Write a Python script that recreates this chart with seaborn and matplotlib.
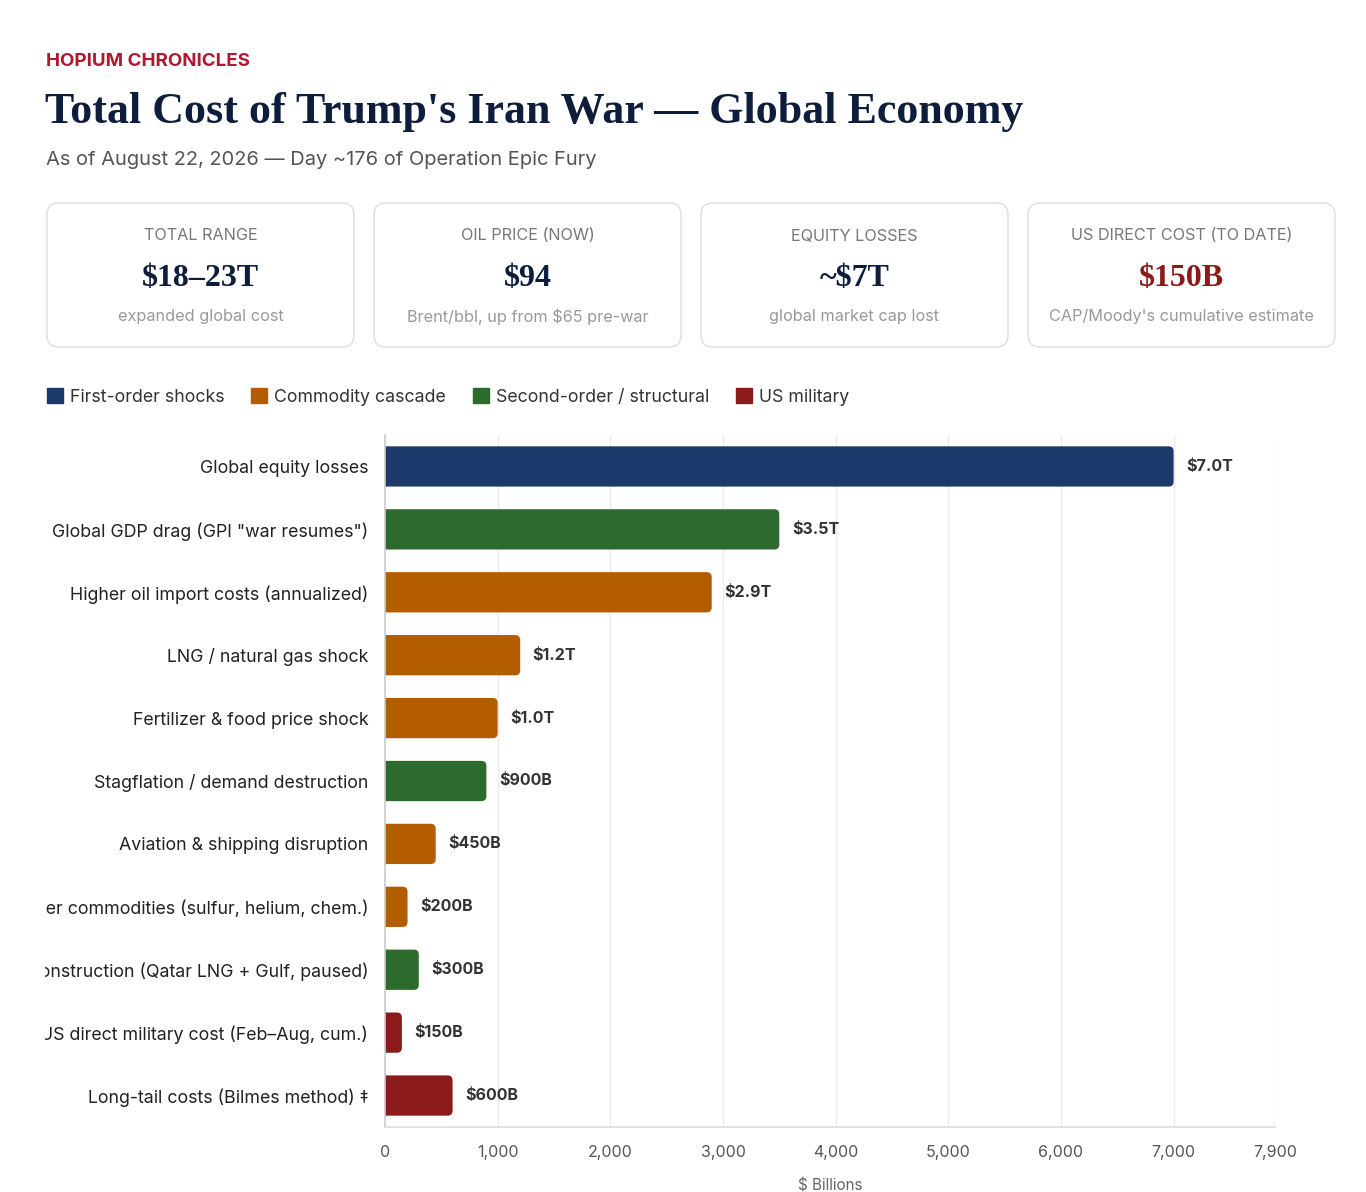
import matplotlib
matplotlib.use("Agg")
import matplotlib.pyplot as plt
from matplotlib.patches import FancyBboxPatch, Patch
from matplotlib.ticker import FuncFormatter
from matplotlib.transforms import Bbox, TransformedBbox
import seaborn as sns
import pandas as pd

# ---------------- data ----------------
items = [
    "Global equity losses",
    "Global GDP drag (GPI \"war resumes\")",
    "Higher oil import costs (annualized)",
    "LNG / natural gas shock",
    "Fertilizer & food price shock",
    "Stagflation / demand destruction",
    "Aviation & shipping disruption",
    "Other commodities (sulfur, helium, chem.)",
    "Reconstruction (Qatar LNG + Gulf, paused)",
    "US direct military cost (Feb–Aug, cum.)",
    "Long-tail costs (Bilmes method) ‡",
]
values_bn = [7000, 3500, 2900, 1200, 1000, 900, 450, 200, 300, 150, 600]
groups = [
    "First-order shocks",
    "Second-order / structural",
    "Commodity cascade",
    "Commodity cascade",
    "Commodity cascade",
    "Second-order / structural",
    "Commodity cascade",
    "Commodity cascade",
    "Second-order / structural",
    "US military",
    "US military",
]
legend_order = ["First-order shocks", "Commodity cascade", "Second-order / structural", "US military"]
group_colors = ["#1b3a6b", "#b35c00", "#2d6a2d", "#8b1a1a"]
x_ticks = [0, 1000, 2000, 3000, 4000, 5000, 6000, 7000, 7900]

card_titles = ["TOTAL RANGE", "OIL PRICE (NOW)", "EQUITY LOSSES", "US DIRECT COST (TO DATE)"]
card_values = ["$18–23T", "$94", "~$7T", "$150B"]
card_notes = ["expanded global cost", "Brent/bbl, up from $65 pre-war",
              "global market cap lost", "CAP/Moody's cumulative estimate"]
card_value_colors = ["#0f1d3d", "#0f1d3d", "#0f1d3d", "#8b1a1a"]

df = pd.DataFrame({"item": items, "value": values_bn, "group": groups})
palette = dict(zip(legend_order, group_colors))

# ---------------- figure ----------------
sns.set_theme(style="white")
SANS = ["Inter", "DejaVu Sans"]
SERIF = ["Liberation Serif", "DejaVu Serif"]
plt.rcParams["font.family"] = SANS

W, H = 1366, 1192
fig = plt.figure(figsize=(W / 100, H / 100), dpi=100)
fig.patch.set_facecolor("white")

def fx(px):
    return px / W

def fy(py):
    return 1 - py / H

# header
fig.text(fx(46), fy(62), "HOPIUM CHRONICLES", color="#b0182f", fontsize=13.5,
         fontweight="bold", va="center", ha="left", family=SANS)
fig.text(fx(45), fy(112), "Total Cost of Trump's Iran War — Global Economy", color="#0f1d3d",
         fontsize=31.7, fontweight="bold", va="center", ha="left", family=SERIF)
fig.text(fx(46), fy(160), "As of August 22, 2026 — Day ~176 of Operation Epic Fury", color="#555555",
         fontsize=14.45, va="center", ha="left", family=SANS)

# cards
card_left = [47, 374, 701, 1028]
card_w, card_top, card_bot = 307, 203, 347
for i in range(4):
    x0 = card_left[i]
    box = FancyBboxPatch((fx(x0), fy(card_bot)), fx(card_w), (card_bot - card_top) / H,
                         boxstyle=f"round,pad=0,rounding_size={12 / W}",
                         mutation_aspect=W / H, transform=fig.transFigure,
                         facecolor="white", edgecolor="#dddddd", linewidth=1.0)
    fig.patches.append(box)
    cx = fx(x0 + card_w / 2)
    fig.text(cx, fy(236), card_titles[i], ha="center", va="center", fontsize=11.7,
             color="#777777", family=SANS)
    fig.text(cx, fy(279), card_values[i], ha="center", va="center", fontsize=23,
             fontweight="bold", color=card_value_colors[i], family=SERIF)
    fig.text(cx, fy(317), card_notes[i], ha="center", va="center", fontsize=11.7,
             color="#999999", family=SANS)

# legend
handles = [Patch(facecolor=c, edgecolor=c, label=g) for g, c in zip(legend_order, group_colors)]
leg = fig.legend(handles=handles, loc="center left", bbox_to_anchor=(fx(40), fy(397)),
                 ncol=4, frameon=False, fontsize=12.75, handlelength=0.9, handleheight=0.9,
                 handletextpad=0.4, columnspacing=1.5, borderaxespad=0)
for t in leg.get_texts():
    t.set_color("#333333")

# main chart
ax = fig.add_axes([fx(385), fy(1127), fx(1275) - fx(385), (1127 - 435) / H])
sns.barplot(data=df, y="item", x="value", hue="group", palette=palette, dodge=False,
            orient="h", width=0.64, ax=ax, legend=False, saturation=1)

ax.set_xlim(0, max(x_ticks))
ax.set_ylim(len(items) - 0.5, -0.5)

# rounded right ends derived from the drawn bars
px_per_x = (1275 - 385) / max(x_ticks)
px_per_y = (1127 - 435) / len(items)
r_px = 5
rx = r_px / px_per_x
ry = r_px / px_per_y
for p in list(ax.patches):
    x, y, w, h = p.get_x(), p.get_y(), p.get_width(), p.get_height()
    if w <= 0:
        continue
    fb = FancyBboxPatch((x - rx * 2, y), w + rx * 2, h,
                        boxstyle=f"round,pad=0,rounding_size={rx}",
                        mutation_aspect=ry / rx, facecolor=p.get_facecolor(),
                        edgecolor="none", zorder=p.get_zorder())
    fb.set_clip_path(ax.patch)
    p.remove()
    ax.add_patch(fb)

# value labels
for i, v in enumerate(values_bn):
    lab = f"${v / 1000:.1f}T" if v >= 1000 else f"${v:.0f}B"
    ax.annotate(lab, xy=(v, i), xytext=(9, 0), textcoords="offset points",
                va="center", ha="left", fontsize=11.5, fontweight="bold", color="#333333")

ax.set_xticks(x_ticks)
ax.xaxis.set_major_formatter(FuncFormatter(lambda v, p: f"{v:,.0f}"))
ax.tick_params(axis="x", labelsize=11.5, colors="#555555", length=5, width=0.8, pad=8,
               color="#cccccc")
ax.tick_params(axis="y", labelsize=12.8, length=0, pad=12, labelcolor="#222222")
ax.set_ylabel("")
ax.set_xlabel("$ Billions", fontsize=11, color="#666666", labelpad=13)
ax.grid(axis="x", color="#ebebeb", linewidth=1)
ax.set_axisbelow(True)
for s in ["top", "right"]:
    ax.spines[s].set_visible(False)
ax.spines["left"].set_color("#cccccc")
ax.spines["bottom"].set_color("#dddddd")
ax.spines["left"].set_linewidth(1.2)
ax.spines["bottom"].set_linewidth(1.2)

# clip long category labels at the page margin
clip_bb = TransformedBbox(Bbox([[fx(45), 0], [1, 1]]), fig.transFigure)
for t in ax.get_yticklabels():
    t.set_clip_on(True)
    t.set_clip_box(clip_bb)

fig.savefig("out.png", dpi=100, facecolor="white")
